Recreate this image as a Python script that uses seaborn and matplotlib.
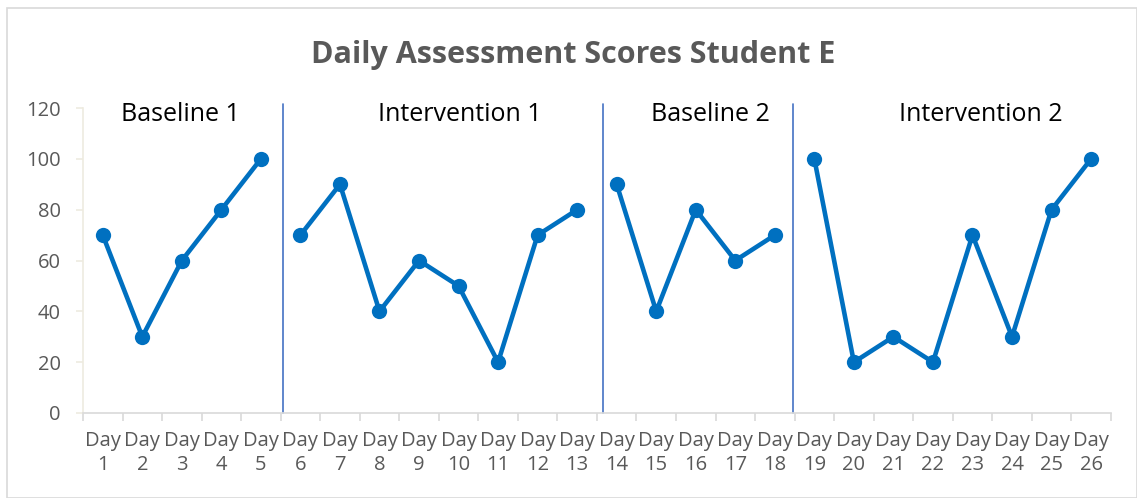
import matplotlib
matplotlib.use("Agg")
import matplotlib.pyplot as plt
import seaborn as sns
import pandas as pd
import numpy as np
from matplotlib.patches import Rectangle

days = [f"Day\n{i}" for i in range(1, 27)]
baseline1 = [70, 30, 60, 80, 100]
intervention1 = [70, 90, 40, 60, 50, 20, 70, 80]
baseline2 = [90, 40, 80, 60, 70]
intervention2 = [100, 20, 30, 20, 70, 30, 80, 100]
phase_names = ["Baseline 1", "Intervention 1", "Baseline 2", "Intervention 2"]
y_ticks = [0, 20, 40, 60, 80, 100, 120]

phases = [baseline1, intervention1, baseline2, intervention2]
rows = []
idx = 0
for name, vals in zip(phase_names, phases):
    for v in vals:
        rows.append({"pos": idx, "score": v, "phase": name})
        idx += 1
df = pd.DataFrame(rows)

sns.set_theme(style="white")
plt.rcParams['font.family'] = ['Open Sans', 'DejaVu Sans']

fig = plt.figure(figsize=(11.37, 4.98), dpi=100)
fig.patches.append(Rectangle((0.006, 0.0), 0.994, 0.984, transform=fig.transFigure,
                             fill=False, edgecolor="#D9D9D9", linewidth=1.2))
ax = fig.add_axes([0.073, 0.1707, 0.904, 0.6123])

line_color = "#0070C0"
sns.lineplot(data=df, x="pos", y="score", hue="phase", palette=[line_color] * 4,
             marker="o", markersize=11, markeredgewidth=0, linewidth=3.3,
             legend=False, ax=ax, clip_on=False)

ax.set_xlim(-0.5, len(days) - 0.5)
ax.set_ylim(0, 120)
ax.set_yticks(y_ticks)
ax.set_yticklabels([str(t) for t in y_ticks], color="#595959", fontsize=14.5)
ax.set_xticks(range(len(days)))
ax.set_xticklabels(days, color="#595959", fontsize=14.5, linespacing=1.25)
ax.set_xticks(np.arange(-0.5, len(days), 1.0), minor=True)
ax.tick_params(axis="x", which="major", length=0, pad=13)
ax.tick_params(axis="x", which="minor", length=6, color="#D9D9D9", width=1.2, bottom=True)
ax.tick_params(axis="y", length=5, color="#EEEBE0", width=1.2, left=True, pad=11)
ax.set_xlabel("")
ax.set_ylabel("")

for s in ["top", "right"]:
    ax.spines[s].set_visible(False)
ax.spines["left"].set_color("#EEEBE0")
ax.spines["left"].set_linewidth(1.2)
ax.spines["bottom"].set_color("#D9D9D9")
ax.spines["bottom"].set_linewidth(1.2)

# phase change lines
for xpos in [4.56, 12.66, 17.47]:
    ax.plot([xpos, xpos], [0, 121.5], color="#4472C4", linewidth=1.2, clip_on=False)

# phase labels
label_x = [1.96, 9.04, 15.37, 22.2]
for name, lx in zip(phase_names, label_x):
    ax.text(lx, 117.5, name, ha="center", va="center", fontsize=18, color="black")

fig.text(0.504, 0.89, "Daily Assessment Scores Student E", ha="center", va="center",
         fontsize=22, fontweight="bold", color="#595959")

fig.savefig("out.png", dpi=100, facecolor="white")
